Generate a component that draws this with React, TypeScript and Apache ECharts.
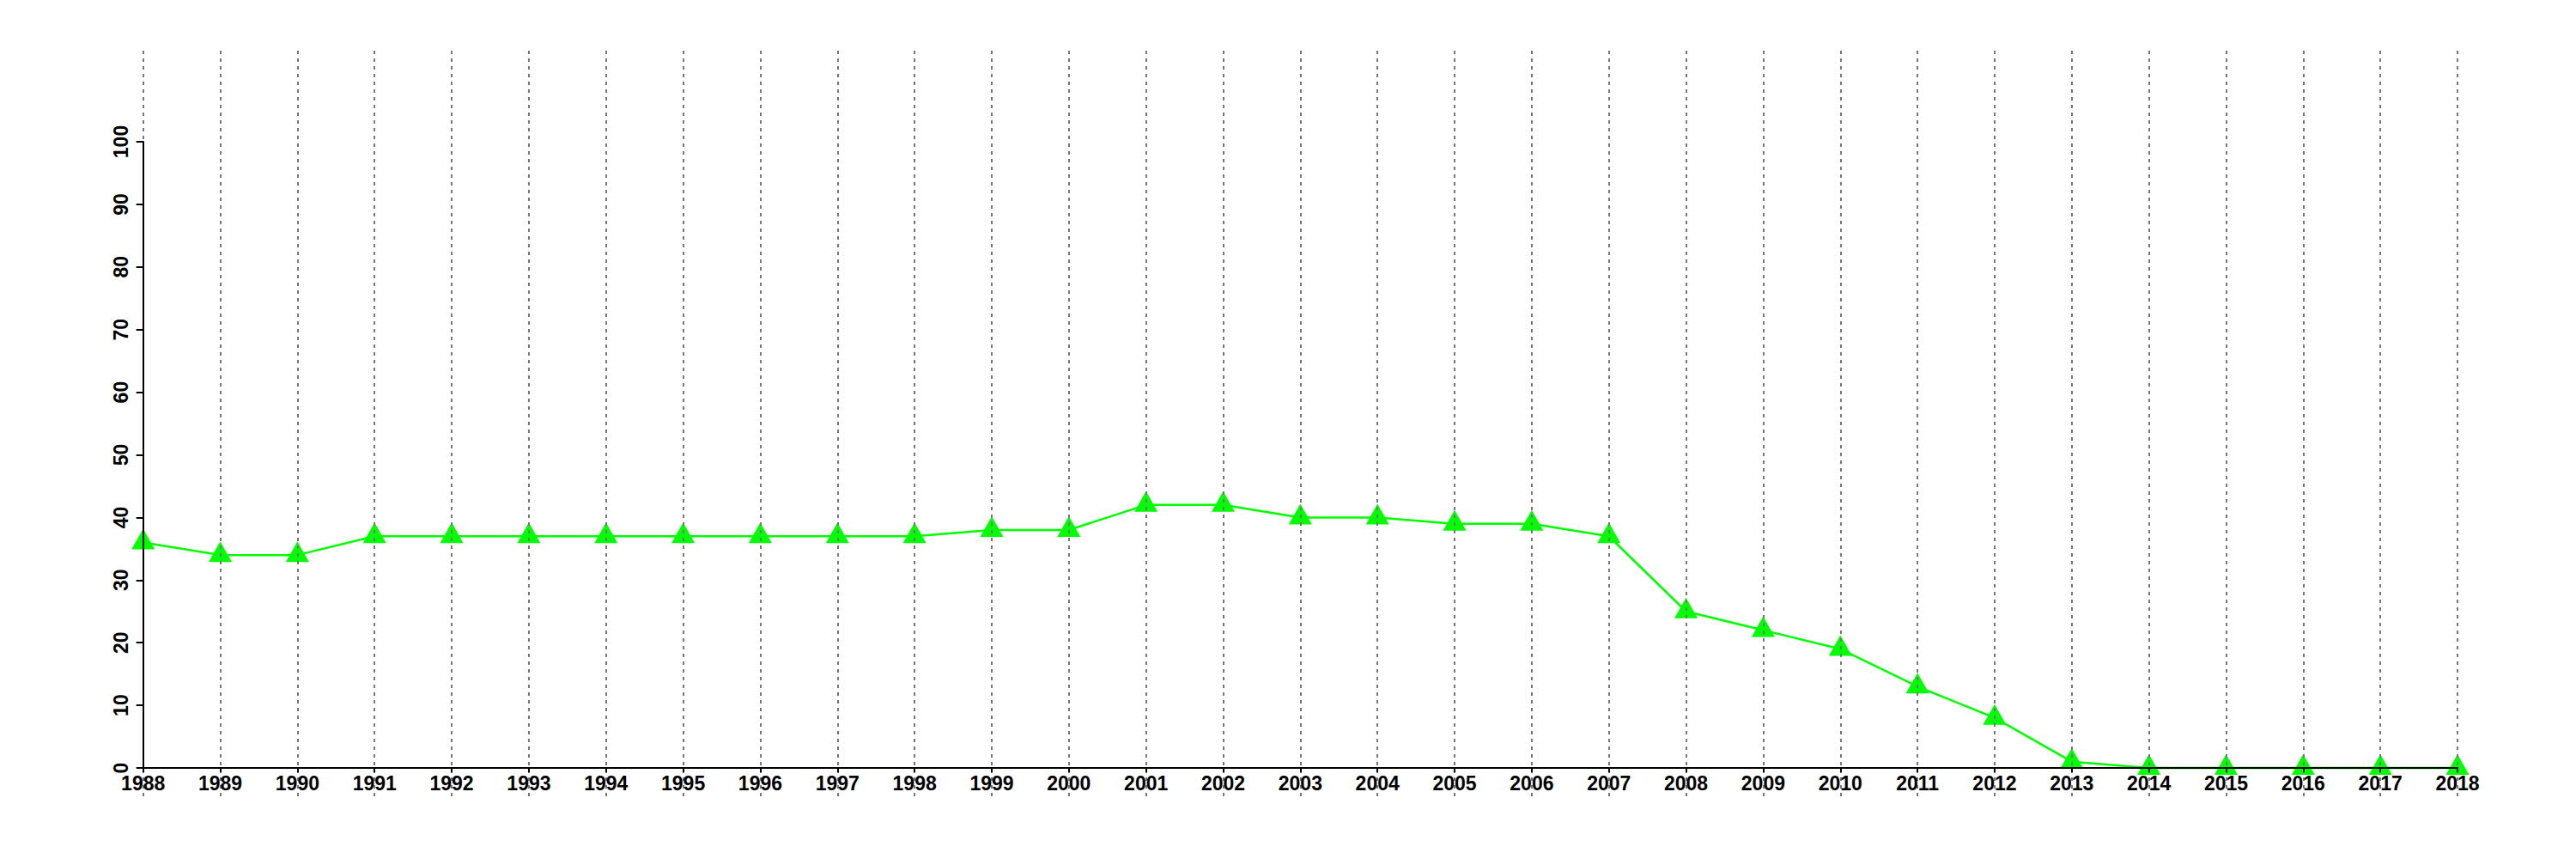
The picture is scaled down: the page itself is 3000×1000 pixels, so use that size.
import React, { useEffect, useRef } from "react";
import * as echarts from "echarts";

const years = [
  "1988", "1989", "1990", "1991", "1992", "1993", "1994", "1995", "1996", "1997",
  "1998", "1999", "2000", "2001", "2002", "2003", "2004", "2005", "2006", "2007",
  "2008", "2009", "2010", "2011", "2012", "2013", "2014", "2015", "2016", "2017", "2018",
];
const values = [
  36, 34, 34, 37, 37, 37, 37, 37, 37, 37,
  37, 38, 38, 42, 42, 40, 40, 39, 39, 37,
  25, 22, 19, 13, 8, 1, 0, 0, 0, 0, 0,
];
const yMin = 0;
const yMax = 100;
const yInterval = 10;

const FONT = "'Liberation Sans', Arial, sans-serif";

export default function App() {
  const ref = useRef<HTMLDivElement>(null);
  useEffect(() => {
    if (!ref.current) return;
    const chart = echarts.init(ref.current, null, { renderer: "svg" });
    const left = 166.7;
    const right = 3000 - 2862;
    chart.setOption({
      animation: false,
      backgroundColor: "#ffffff",
      grid: [
        { left, right, top: 165, bottom: 106, containLabel: false },
        { left, right, top: 59, bottom: 73, containLabel: false },
      ],
      xAxis: [
        {
          type: "category",
          gridIndex: 0,
          data: years,
          boundaryGap: false,
          z: 10,
          axisLine: { show: true, onZero: false, lineStyle: { color: "#000", width: 2 } },
          axisTick: { show: true, length: 5, interval: 0, lineStyle: { color: "#000", width: 2 } },
          axisLabel: {
            interval: 0,
            margin: 6,
            color: "#000",
            fontFamily: FONT,
            fontWeight: "bold",
            fontSize: 23,
          },
          splitLine: { show: false },
        },
        {
          type: "category",
          gridIndex: 1,
          data: years,
          boundaryGap: false,
          z: 8,
          axisLine: { show: false },
          axisTick: { show: false },
          axisLabel: { show: false },
          splitLine: {
            show: true,
            interval: 0,
            lineStyle: { color: "#777777", width: 2, type: [4, 5] },
          },
        },
      ],
      yAxis: [
        {
          type: "value",
          gridIndex: 0,
          min: yMin,
          max: yMax,
          interval: yInterval,
          z: 10,
          axisLine: { show: true, lineStyle: { color: "#000", width: 2 } },
          axisTick: { show: true, length: 8, lineStyle: { color: "#000", width: 2 } },
          axisLabel: {
            rotate: 90,
            margin: 14,
            color: "#000",
            fontFamily: FONT,
            fontWeight: "bold",
            fontSize: 23,
          },
          splitLine: { show: false },
        },
        {
          type: "value",
          gridIndex: 1,
          show: false,
          splitLine: { show: false },
        },
      ],
      series: [
        {
          type: "line",
          xAxisIndex: 0,
          yAxisIndex: 0,
          data: values,
          clip: false,
          symbol: "triangle",
          symbolSize: [27, 24],
          symbolOffset: [0, -4],
          lineStyle: { color: "#00ff00", width: 2.5 },
          itemStyle: { color: "#00ff00" },
          z: 2,
        },
      ],
    });
    return () => chart.dispose();
  }, []);
  return (
    <div
      ref={ref}
      style={{ position: "fixed", left: 0, top: 0, width: 3000, height: 1000, background: "#fff" }}
    />
  );
}
